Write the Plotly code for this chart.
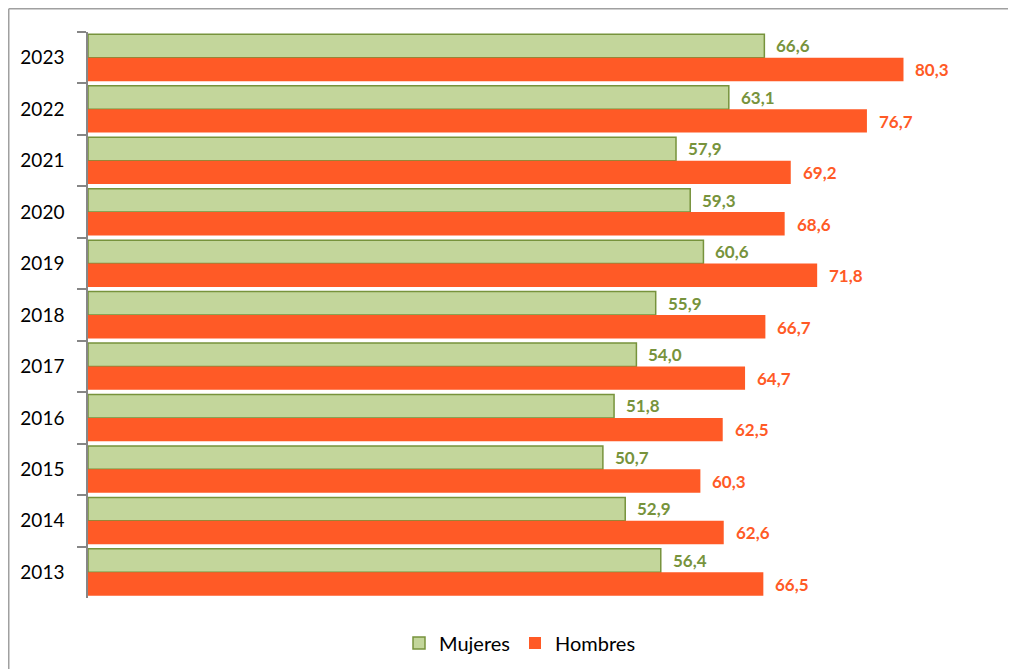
import plotly.graph_objects as go

years = ["2023", "2022", "2021", "2020", "2019", "2018", "2017", "2016", "2015", "2014", "2013"]
mujeres = [66.6, 63.1, 57.9, 59.3, 60.6, 55.9, 54.0, 51.8, 50.7, 52.9, 56.4]
hombres = [80.3, 76.7, 69.2, 68.6, 71.8, 66.7, 64.7, 62.5, 60.3, 62.6, 66.5]

GREEN_FILL = "#C3D69B"
GREEN_LINE = "#77933C"
ORANGE = "#FF5A26"
FONT = "Lato, 'Open Sans', sans-serif"

def fmt(v):
    return f"{v:.1f}".replace(".", ",")

fig = go.Figure()
fig.add_trace(go.Bar(
    name="Mujeres", y=years, x=mujeres, orientation="h",
    marker=dict(color=GREEN_FILL, line=dict(color=GREEN_LINE, width=1.5)),
    hoverinfo="x+y",
))
fig.add_trace(go.Bar(
    name="Hombres", y=years, x=hombres, orientation="h",
    marker=dict(color=ORANGE, line=dict(color=ORANGE, width=0)),
    hoverinfo="x+y",
))

annotations = []
for i, (m, h) in enumerate(zip(mujeres, hombres)):
    annotations.append(dict(x=m, y=i, xref="x", yref="y", text=fmt(m), showarrow=False,
                            xanchor="left", yanchor="middle", xshift=10, yshift=12,
                            font=dict(family=FONT, size=17, color=GREEN_LINE, weight="bold")))
    annotations.append(dict(x=h, y=i, xref="x", yref="y", text=fmt(h), showarrow=False,
                            xanchor="left", yanchor="middle", xshift=10, yshift=-12,
                            font=dict(family=FONT, size=17, color=ORANGE, weight="bold")))

W, H = 1008, 661
L, R, T, B = 80, 14, 24, 71
pw = W - L - R
ph = H - T - B

fx0 = (0.75 - L) / pw
fx1 = (W - L) / pw
fy_top = 1 + (T - 0.75) / ph
fy_bot = -(H - (H - B)) / ph

fig.update_layout(
    width=W, height=H,
    margin=dict(l=L, r=R, t=T, b=B, autoexpand=False),
    paper_bgcolor="white", plot_bgcolor="white",
    barmode="group", bargap=0.09, bargroupgap=0.0,
    font=dict(family=FONT, size=18, color="#000000"),
    xaxis=dict(range=[0, 90], visible=False, fixedrange=True, automargin=False),
    yaxis=dict(
        type="category", categoryorder="array", categoryarray=years,
        range=[len(years) - 0.5, -0.5], autorange=False, automargin=False,
        showline=True, linecolor="#868686", linewidth=1.5,
        ticks="outside", tickson="boundaries", ticklen=9, tickcolor="#868686", tickwidth=1.5,
        ticklabelstandoff=18,
        tickfont=dict(family=FONT, size=19, color="#000000"),
        showgrid=False, zeroline=False,
    ),
    legend=dict(orientation="h", x=(512 - L) / pw, xanchor="center",
                y=-(635 - (H - B)) / ph, yanchor="middle",
                font=dict(family=FONT, size=20, color="#000000"),
                itemwidth=30, bgcolor="rgba(0,0,0,0)"),
    annotations=annotations,
    shapes=[
        dict(type="line", xref="paper", yref="paper", x0=fx0, x1=fx1, y0=fy_top, y1=fy_top,
             line=dict(color="#A0A0A0", width=1.5), layer="below"),
        dict(type="line", xref="paper", yref="paper", x0=fx0, x1=fx0, y0=fy_top, y1=fy_bot,
             line=dict(color="#A0A0A0", width=1.5), layer="below"),
    ],
)

fig.write_html(
    "out.html",
    post_script="document.documentElement.style.overflow='hidden';document.body.style.overflow='hidden';",
)
